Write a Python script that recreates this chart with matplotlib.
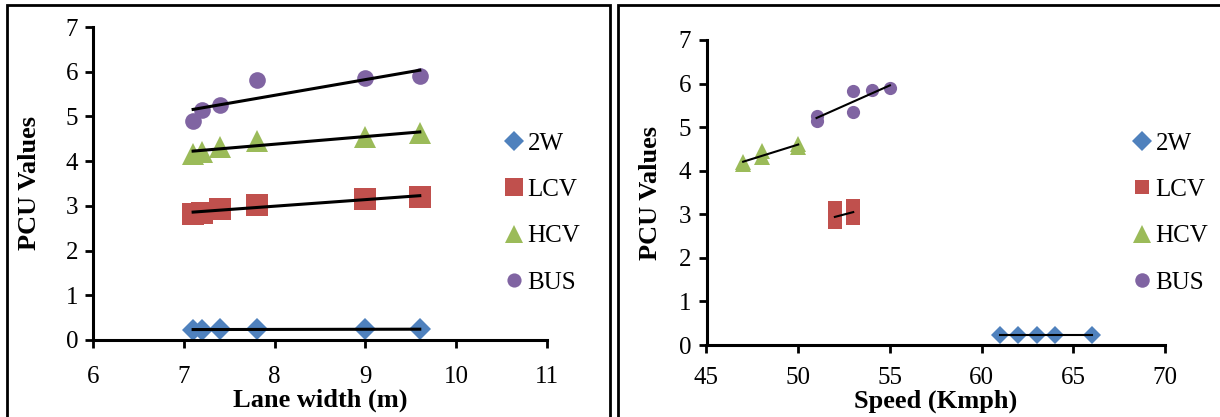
import numpy as np
import matplotlib
matplotlib.use("Agg")
import matplotlib.pyplot as plt
from matplotlib.patches import Rectangle

# -------------------
# Data
# -------------------
lane_width = [7.1, 7.2, 7.4, 7.8, 9.0, 9.6]
pcu_2w = [0.23, 0.23, 0.24, 0.24, 0.24, 0.24]
pcu_lcv = [2.82, 2.85, 2.92, 3.03, 3.15, 3.20]
pcu_hcv = [4.15, 4.20, 4.32, 4.45, 4.55, 4.62]
pcu_bus = [4.90, 5.15, 5.25, 5.82, 5.85, 5.90]

speed_2w = [61, 62, 63, 64, 66]
speed_pcu_2w = [0.24, 0.24, 0.24, 0.24, 0.24]
speed_lcv = [52, 52, 52, 53, 53, 53]
speed_pcu_lcv = [2.82, 2.85, 3.15, 2.92, 3.03, 3.20]
speed_hcv = [47, 47, 48, 48, 50, 50]
speed_pcu_hcv = [4.15, 4.20, 4.32, 4.45, 4.55, 4.62]
speed_bus = [51, 51, 53, 53, 54, 55]
speed_pcu_bus = [5.15, 5.25, 5.35, 5.82, 5.85, 5.90]

labels = ["2W", "LCV", "HCV", "BUS"]
colors = ["#4F81BD", "#C0504D", "#9BBB59", "#8064A2"]
markers = ["D", "s", "^", "o"]

plt.rcParams["font.family"] = ["Liberation Serif", "DejaVu Serif"]

W, H = 1220, 417
fig = plt.figure(figsize=(W / 100, H / 100), dpi=100)

# chart boxes (Excel style)
fig.patches.append(Rectangle((7 / W, -0.05), (610 - 7) / W, 1.05 - 5 / H,
                             transform=fig.transFigure, fill=False,
                             edgecolor="black", linewidth=2))
fig.patches.append(Rectangle((618 / W, -0.05), 0.6, 1.05 - 5 / H,
                             transform=fig.transFigure, fill=False,
                             edgecolor="black", linewidth=2))


def style_axes(ax, xlim, xticks, xlabel, xpad, ylabelpad):
    ax.set_xlim(*xlim)
    ax.set_ylim(0, 7)
    ax.set_xticks(xticks)
    ax.set_yticks(range(0, 8))
    for s in ["top", "right"]:
        ax.spines[s].set_visible(False)
    for s in ["left", "bottom"]:
        ax.spines[s].set_linewidth(2.2)
    ax.tick_params(direction="out", length=6, width=2, labelsize=18)
    ax.tick_params(axis="x", pad=xpad)
    ax.tick_params(axis="y", pad=5)
    ax.set_xlabel(xlabel, fontsize=19, fontweight="bold", labelpad=0)
    ax.set_ylabel("PCU Values", fontsize=19, fontweight="bold", labelpad=ylabelpad)


def trend(ax, x, y, lw):
    k, b = np.polyfit(x, y, 1)
    xs = np.array([min(x), max(x)])
    ax.plot(xs, k * xs + b, color="black", linewidth=lw, zorder=3)


# -------------------
# Lane width panel
# -------------------
ax1 = fig.add_axes([93.4 / W, (H - 340) / H, 453.3 / W, 313 / H])
sizes1 = [11.5, 15.5, 16, 12]
for ys, lab, c, m, ms in zip([pcu_2w, pcu_lcv, pcu_hcv, pcu_bus], labels, colors, markers, sizes1):
    ax1.plot(lane_width, ys, linestyle="none", marker=m, color=c, markersize=ms,
             markeredgewidth=0, label=lab, zorder=2)
for ys in [pcu_2w, pcu_lcv, pcu_hcv, pcu_bus]:
    trend(ax1, lane_width, ys, 2.2)
style_axes(ax1, (6, 11), range(6, 12), "Lane width (m)", 13, 18)
ax1.legend(loc="center left", bbox_to_anchor=(505 / W, 1 - 213 / H),
           bbox_transform=fig.transFigure, frameon=False, fontsize=18,
           markerscale=0.85, handlelength=0.7, handletextpad=0.2,
           labelspacing=0.95, borderpad=0, borderaxespad=0)

# -------------------
# Speed panel
# -------------------
ax2 = fig.add_axes([706.5 / W, (H - 345) / H, 458.5 / W, 305 / H])
sizes2 = [9.5, 9.5, 12, 9.5]
series2 = [(speed_2w, speed_pcu_2w), (speed_lcv, speed_pcu_lcv),
           (speed_hcv, speed_pcu_hcv), (speed_bus, speed_pcu_bus)]
for (xs, ys), lab, c, m, ms in zip(series2, labels, colors, markers, sizes2):
    ax2.plot(xs, ys, linestyle="none", marker=m, color=c, markersize=ms,
             markeredgewidth=0, label=lab, zorder=2)
for xs, ys in series2:
    trend(ax2, xs, ys, 1.5)
style_axes(ax2, (45, 70), range(45, 75, 5), "Speed (Kmph)", 10, 12)
ax2.legend(loc="center left", bbox_to_anchor=(1133 / W, 1 - 213 / H),
           bbox_transform=fig.transFigure, frameon=False, fontsize=18,
           markerscale=1.1, handlelength=0.7, handletextpad=0.2,
           labelspacing=0.95, borderpad=0, borderaxespad=0)

fig.savefig("out.png", dpi=100)
